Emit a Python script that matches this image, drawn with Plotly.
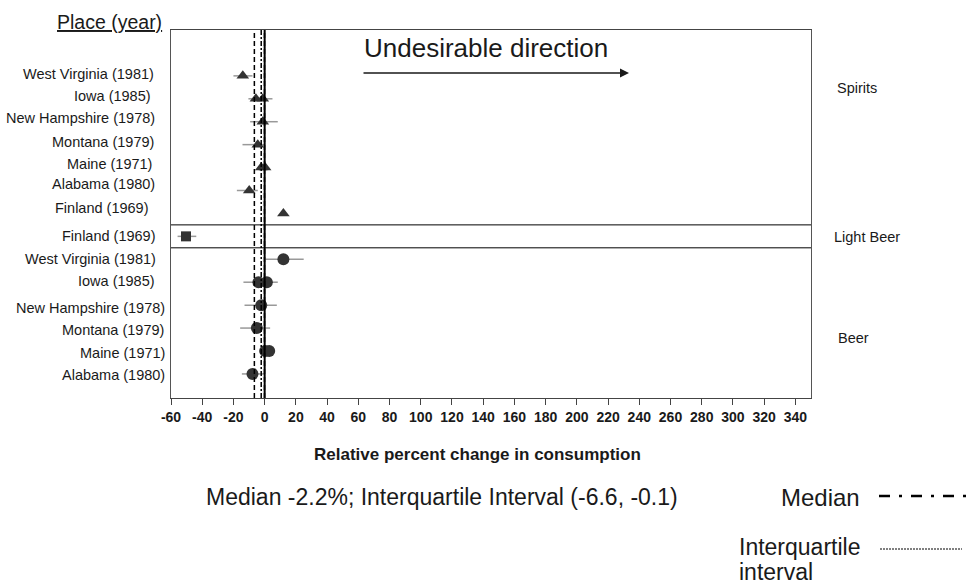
import plotly.graph_objects as go

# ---------------- data ----------------
row_labels = [
    "West Virginia (1981)", "Iowa (1985)", "New Hampshire (1978)", "Montana (1979)",
    "Maine (1971)", "Alabama (1980)", "Finland (1969)",
    "Finland (1969)",
    "West Virginia (1981)", "Iowa (1985)", "New Hampshire (1978)", "Montana (1979)",
    "Maine (1971)", "Alabama (1980)",
]
group_labels = ["Spirits", "Light Beer", "Beer"]

spirits_row = [0, 1, 1, 2, 3, 4, 4, 5, 6]
spirits_est = [-14.0, -5.6, -1.2, -1.2, -4.4, -2.2, 0.3, -9.9, 12.0]
spirits_lo = [-20.0, -10.4, -5.5, -9.3, -14.2, -2.2, 0.3, -17.8, 12.0]
spirits_hi = [-7.8, -0.8, 5.0, 8.4, 0.0, -2.2, 0.3, -4.4, 12.0]

light_row = [7]
light_est = [-50.4]
light_lo = [-55.8]
light_hi = [-43.8]

beer_row = [8, 9, 9, 10, 11, 12, 12, 13]
beer_est = [12.0, -4.0, 1.4, -2.2, -5.0, 0.3, 2.9, -7.8]
beer_lo = [0.5, -13.6, -3.0, -12.9, -15.7, 0.3, 2.9, -14.6]
beer_hi = [25.0, 4.0, 8.4, 7.8, 3.5, 0.3, 2.9, 0.0]

median_val = -2.2
iqr_low = -6.6
iqr_high = -0.1

x_ticks = list(range(-60, 341, 20))

# ---------------- layout geometry (pixels) ----------------
W, H = 968, 587
L, R, T, B = 171, 811, 30, 398
FONT = "Arial, Liberation Sans, sans-serif"
INK = "#1a1a1a"


def fx(px):
    return (px - L) / (R - L)


def fy(py):
    return (B - py) / (B - T)


fig = go.Figure()


def add_series(rows, est, lo, hi, symbol, size):
    fig.add_trace(go.Scatter(
        x=est, y=rows, mode="markers",
        marker=dict(symbol=symbol, size=size, color="#333333"),
        error_x=dict(type="data", symmetric=False,
                     array=[h - e for h, e in zip(hi, est)],
                     arrayminus=[e - l for e, l in zip(est, lo)],
                     color="#999999", thickness=1.5, width=0),
        showlegend=False, hoverinfo="x+y",
    ))


add_series(spirits_row, spirits_est, spirits_lo, spirits_hi, "triangle-up", 11)
add_series(light_row, light_est, light_lo, light_hi, "square", 10)
add_series(beer_row, beer_est, beer_lo, beer_hi, "circle", 12)

shapes = []
# reference lines
shapes.append(dict(type="line", xref="x", yref="paper", x0=0, x1=0, y0=0, y1=1,
                   line=dict(color="black", width=2)))
for v in (iqr_low, iqr_high):
    shapes.append(dict(type="line", xref="x", yref="paper", x0=v, x1=v, y0=0, y1=1,
                       line=dict(color="black", width=1.5, dash="5px,3px")))
shapes.append(dict(type="line", xref="x", yref="paper", x0=median_val, x1=median_val,
                   y0=0, y1=1, line=dict(color="black", width=1.5, dash="5px,2px,2px,2px")))
# separators around light beer row
for yv in (6.5, 7.5):
    shapes.append(dict(type="line", xref="paper", yref="y", x0=0, x1=1, y0=yv, y1=yv,
                       line=dict(color="black", width=1)))
# legend lines
shapes.append(dict(type="line", xref="paper", yref="paper", x0=fx(879), x1=fx(966),
                   y0=fy(496), y1=fy(496),
                   line=dict(color="black", width=2.5, dash="11px,9px,3px,9px")))
shapes.append(dict(type="line", xref="paper", yref="paper", x0=fx(880), x1=fx(962),
                   y0=fy(549), y1=fy(549),
                   line=dict(color="black", width=1, dash="2px,1px")))

annotations = []
label_right = [156, 153, 157, 156, 154, 157, 151, 158, 158, 157, 167, 166, 167, 167]
label_shift = [2, 3, 4, 3, 4, 7, 5, 0, 0, 1, -3, -2, -2, -1]
for i, lab in enumerate(row_labels):
    annotations.append(dict(text=lab, xref="paper", yref="y", x=fx(label_right[i]), y=i,
                            xanchor="right", yanchor="middle", yshift=label_shift[i],
                            showarrow=False, font=dict(family=FONT, size=14.5, color=INK)))

group_pos = [(835, 88), (832, 237), (836, 338)]
for lab, (gx, gy) in zip(group_labels, group_pos):
    annotations.append(dict(text=lab, xref="paper", yref="paper", x=fx(gx), y=fy(gy),
                            xanchor="left", yanchor="middle", showarrow=False,
                            font=dict(family=FONT, size=14.5, color=INK)))

annotations += [
    dict(text="<u>Place (year)</u>", xref="paper", yref="paper", x=fx(164), y=fy(22),
         xanchor="right", yanchor="middle", showarrow=False,
         font=dict(family=FONT, size=19.5, color=INK)),
    dict(text="Undesirable direction", xref="paper", yref="paper", x=fx(362), y=fy(48),
         xanchor="left", yanchor="middle", showarrow=False,
         font=dict(family=FONT, size=26, color=INK)),
    dict(text="", xref="paper", yref="paper", x=fx(629), y=fy(73), ax=-267, ay=0,
         showarrow=True, arrowhead=2, arrowsize=1.2, arrowwidth=1.5, arrowcolor=INK),
    dict(text="<b>Relative percent change in consumption</b>", xref="paper", yref="paper",
         x=fx(477), y=fy(454), xanchor="center", yanchor="middle", showarrow=False,
         font=dict(family=FONT, size=17, color=INK)),
    dict(text=f"Median {median_val}%; Interquartile Interval ({iqr_low}, {iqr_high})",
         xref="paper", yref="paper", x=fx(442), y=fy(497), xanchor="center",
         yanchor="middle", showarrow=False, font=dict(family=FONT, size=23, color=INK)),
    dict(text="Median", xref="paper", yref="paper", x=fx(862), y=fy(497),
         xanchor="right", yanchor="middle", showarrow=False,
         font=dict(family=FONT, size=24, color=INK)),
    dict(text="Interquartile", xref="paper", yref="paper", x=fx(737), y=fy(547),
         xanchor="left", yanchor="middle", showarrow=False,
         font=dict(family=FONT, size=23, color=INK)),
    dict(text="interval", xref="paper", yref="paper", x=fx(737), y=fy(572),
         xanchor="left", yanchor="middle", showarrow=False,
         font=dict(family=FONT, size=23, color=INK)),
]

fig.update_layout(
    width=W, height=H,
    margin=dict(l=L, r=W - R, t=T, b=H - B, pad=0),
    paper_bgcolor="white", plot_bgcolor="white",
    shapes=shapes, annotations=annotations,
    xaxis=dict(range=[-60, 350], tickvals=x_ticks, ticktext=[str(v) for v in x_ticks],
               ticks="outside", ticklen=6, tickcolor="#444", tickwidth=1,
               showline=True, mirror=True, linecolor="#444", linewidth=1,
               showgrid=False, zeroline=False,
               tickfont=dict(family=FONT, size=14, color=INK, weight="bold")),
    yaxis=dict(range=[14.05, -2.0], showticklabels=False, ticks="",
               showline=True, mirror=True, linecolor="#555", linewidth=1,
               showgrid=False, zeroline=False),
    font=dict(family=FONT, color=INK),
)

fig.write_html("out.html", config={"displayModeBar": False},
               post_script="document.body.style.margin='0';document.body.style.overflow='hidden';")
